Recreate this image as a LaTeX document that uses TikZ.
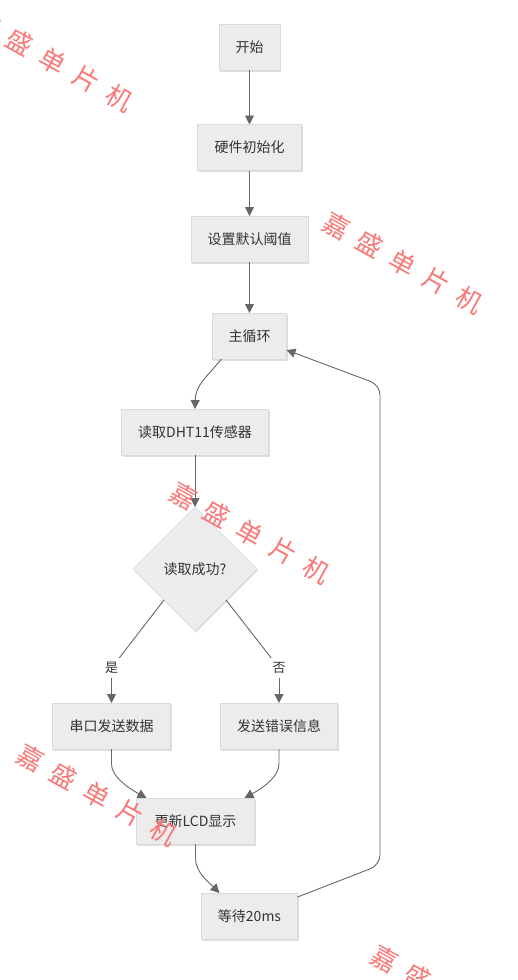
\documentclass[tikz,border=0pt]{standalone}
\usepackage{fontspec}
\setmainfont{Noto Sans CJK SC}
\usepackage{tikz}
\usetikzlibrary{positioning, shapes.geometric, arrows.meta, shadows, calc}
\usepackage{xcolor}
\definecolor{boxFill}{RGB}{236, 236, 236}
\definecolor{boxEdge}{RGB}{218, 218, 218}
\definecolor{lineGray}{RGB}{102, 102, 102}
\definecolor{textDark}{RGB}{51, 51, 51}
\definecolor{markRed}{RGB}{250, 120, 120}
\newcommand{\markText}{嘉\hspace{12pt}盛\hspace{12pt}单\hspace{12pt}片\hspace{12pt}机}

\begin{document}
\begin{tikzpicture}[x=1pt, y=-1pt, >={Triangle[length=9pt, width=9pt]},
    box/.style={rectangle, fill=boxFill, draw=boxEdge, line width=0.6pt, outer sep=0pt, text=textDark, minimum height=46pt, font=\fontsize{14pt}{16pt}\selectfont, drop shadow={shadow xshift=1pt, shadow yshift=-1.5pt, opacity=0.25}},
    decision/.style={diamond, aspect=1, inner sep=0pt, outer sep=0pt, fill=boxFill, draw=boxEdge, line width=0.6pt, text=textDark, minimum width=124pt, minimum height=124pt, font=\fontsize{14pt}{16pt}\selectfont, drop shadow={shadow xshift=1pt, shadow yshift=-1.5pt, opacity=0.25}},
    lbl/.style={inner sep=0pt, outer sep=0pt, minimum size=20pt, text=textDark, font=\fontsize{13pt}{15pt}\selectfont},
    line/.style={->, line width=0.9pt, color=lineGray},
    wmark/.style={rotate=-29, text=markRed, font=\fontsize{26pt}{28pt}\selectfont}]
    \useasboundingbox (0,0) rectangle (517,980);

    \node[box, minimum width=61pt] (start) at (249.5,47) {开始};

    \node[box, below=54.5pt of start, minimum width=104pt] (init) {硬件初始化};

    \node[box, below=45.5pt of init, minimum width=117pt] (thresh) {设置默认阈值};

    \node[box, below=51pt of thresh, minimum width=74pt] (mainloop) {主循环};

    \node[box, below=50pt of mainloop, xshift=-54.5pt, minimum width=147pt] (dht) {读取DHT11传感器};

    \node[decision, below=52pt of dht] (check) {读取成功?};

    \node[box, below=72pt of check, xshift=-83.5pt, minimum width=118pt] (uart) {串口发送数据};

    \node[box, below=72pt of check, xshift=84pt, minimum width=117pt] (err) {发送错误信息};

    \node[lbl, above=25pt of uart] (yes) {是};
    \node[lbl, above=25pt of err] (no) {否};

    \node[box, below=49pt of uart, xshift=84pt, minimum width=118pt] (lcd) {更新LCD显示};

    \node[box, below=49pt of lcd, xshift=54pt, minimum width=96pt] (wait) {等待20ms};

    \coordinate (loopB) at (380,865);
    \coordinate (loopT) at (380,385);

    \draw[line] (start) -- (init);
    \draw[line] (init) -- (thresh);
    \draw[line] (thresh) -- (mainloop);
    \draw[line] ([xshift=-28pt]mainloop.south) .. controls (206,378) and (195.5,385) .. (dht.north);
    \draw[line] (dht) -- (check);
    \draw[line, -] (check.south west) -- (yes);
    \draw[line] (yes) -- (uart);
    \draw[line, -] (check.south east) -- (no);
    \draw[line] (no) -- (err);
    \draw[line] (uart.south) -- ++(0,15) .. controls +(0,12) and +(-20,-11) .. ([xshift=-49pt]lcd.north);
    \draw[line] (err.south) -- ++(0,15) .. controls +(0,12) and +(20,-11) .. ([xshift=49pt]lcd.north);
    \draw[line] (lcd.south) -- ++(0,14) .. controls +(0,14) and +(-12,-12) .. ([xshift=-30pt]wait.north);
    \draw[line, rounded corners=10pt] ([yshift=-4pt]wait.north east) -- (loopB) -- (loopT) -- ([yshift=-14pt]mainloop.east);

    % watermarks
    \node[wmark] (mark1) at (53,61) {\markText};
    \node[wmark] (mark2) at (403,263) {\markText};
    \node[wmark] (mark3) at (250,533) {\markText};
    \node[wmark] (mark4) at (97,795) {\markText};
    \node[wmark] (mark5) at (451,996) {\markText};
\end{tikzpicture}
\end{document}
